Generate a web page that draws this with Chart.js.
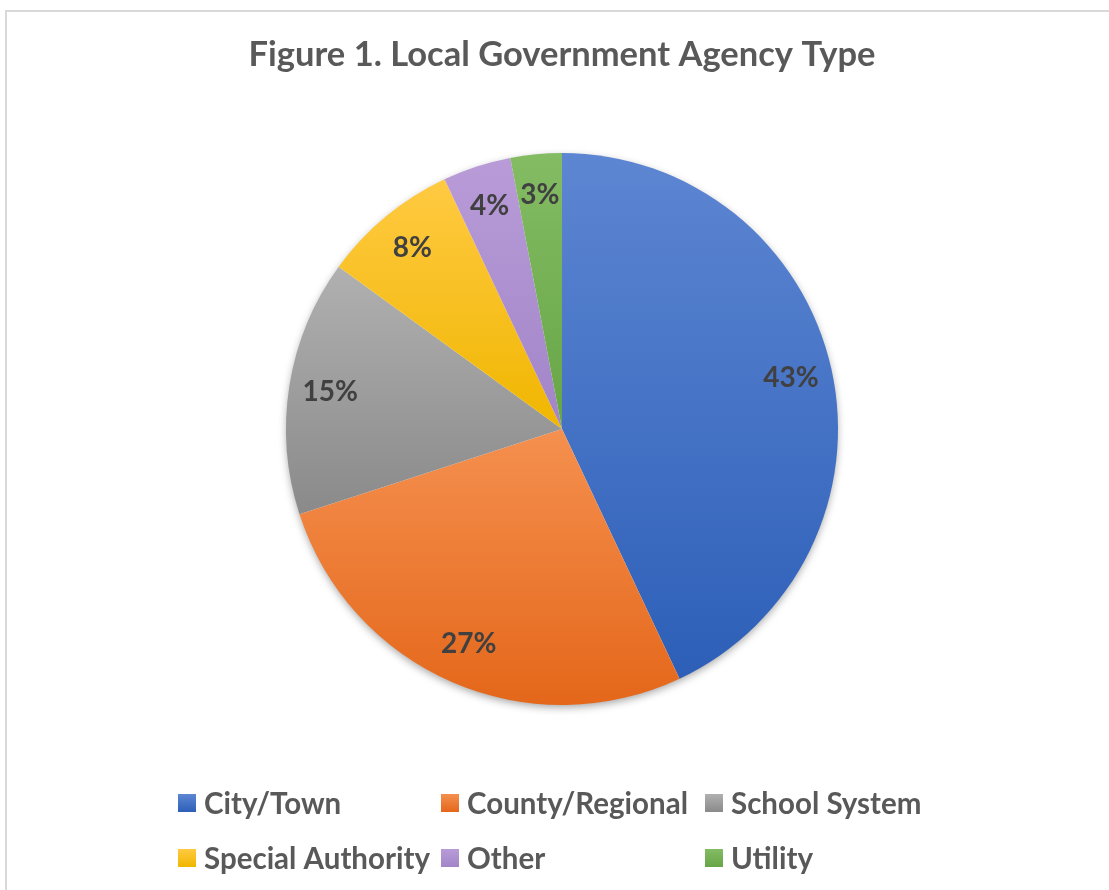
<!DOCTYPE html>
<html>
<head>
<meta charset="utf-8">
<title>Local Government Agency Type</title>
<script src="https://cdn.jsdelivr.net/npm/chart.js@4.4.1/dist/chart.umd.min.js"></script>
<style>
  html, body { margin: 0; padding: 0; background: #fff; }
  #wrap { width: 1109px; height: 890px; position: relative; }
</style>
</head>
<body>
<div id="wrap"><canvas id="agencyChart" width="1109" height="890"></canvas></div>
<script>
const categories = ['City/Town', 'County/Regional', 'School System', 'Special Authority', 'Other', 'Utility'];
const shares = [43, 27, 15, 8, 4, 3];

// top / bottom stops of each slice's vertical gradient
const topColors = ['#5d86d2', '#f5904f', '#b0b0b0', '#ffca42', '#b89bd7', '#84bc64'];
const bottomColors = ['#2d5fb8', '#e4671a', '#8a8a8a', '#f0b600', '#a285c8', '#66a546'];

const FONT = 'Lato, "Open Sans", sans-serif';

function vgrad(ctx, y0, y1, i) {
  const g = ctx.createLinearGradient(0, y0, 0, y1);
  g.addColorStop(0, topColors[i]);
  g.addColorStop(1, bottomColors[i]);
  return g;
}

// vertical extent of a pie slice
function sliceSpan(arc) {
  const {x, y, startAngle, endAngle, outerRadius} = arc.getProps(['x', 'y', 'startAngle', 'endAngle', 'outerRadius'], true);
  const ys = [y, y + Math.sin(startAngle) * outerRadius, y + Math.sin(endAngle) * outerRadius];
  const within = (a) => {
    for (let k = -2; k <= 2; k++) {
      const t = a + k * 2 * Math.PI;
      if (t >= startAngle && t <= endAngle) return true;
    }
    return false;
  };
  if (within(-Math.PI / 2)) ys.push(y - outerRadius);
  if (within(Math.PI / 2)) ys.push(y + outerRadius);
  return [Math.min(...ys), Math.max(...ys)];
}

const piePainter = {
  id: 'piePainter',
  beforeDraw(chart) {
    const ctx = chart.ctx;
    ctx.save();
    ctx.strokeStyle = '#d9d9d9';
    ctx.lineWidth = 2;
    ctx.strokeRect(6, 11, 1300, 1000);
    ctx.restore();
  },
  beforeDatasetsDraw(chart) {
    const ctx = chart.ctx;
    const arcs = chart.getDatasetMeta(0).data;
    if (!arcs.length) return;
    const a0 = arcs[0];
    // soft drop shadow under the whole pie
    ctx.save();
    ctx.shadowColor = 'rgba(0,0,0,0.38)';
    ctx.shadowBlur = 9;
    ctx.shadowOffsetY = 3;
    ctx.fillStyle = '#fff';
    ctx.beginPath();
    ctx.arc(a0.x, a0.y, a0.outerRadius - 1, 0, Math.PI * 2);
    ctx.fill();
    ctx.restore();
    arcs.forEach((arc, i) => {
      const [y0, y1] = sliceSpan(arc);
      arc.options.backgroundColor = vgrad(ctx, y0, y1, i);
      arc.options.borderColor = arc.options.backgroundColor;
    });
  },
  afterDatasetsDraw(chart) {
    const ctx = chart.ctx;
    const arcs = chart.getDatasetMeta(0).data;
    ctx.save();
    ctx.font = 'bold 28px ' + FONT;
    ctx.fillStyle = '#404040';
    ctx.textAlign = 'center';
    ctx.textBaseline = 'middle';
    arcs.forEach((arc, i) => {
      const mid = (arc.startAngle + arc.endAngle) / 2;
      const r = arc.outerRadius * 0.85;
      ctx.fillText(shares[i] + '%', arc.x + Math.cos(mid) * r, arc.y + Math.sin(mid) * r);
    });
    ctx.restore();
  },
  afterDraw(chart) {
    // three-column legend under the pie
    const ctx = chart.ctx;
    const cols = [178, 441, 705];
    const rows = [803, 858];
    ctx.save();
    ctx.font = 'bold 29.5px ' + FONT;
    ctx.textBaseline = 'middle';
    categories.forEach((name, i) => {
      const x = cols[i % 3];
      const y = rows[Math.floor(i / 3)];
      ctx.fillStyle = vgrad(ctx, y - 9, y + 9, i);
      ctx.fillRect(x, y - 9, 18, 18);
      ctx.fillStyle = '#595959';
      ctx.fillText(name, x + 26, y + 1);
    });
    ctx.restore();
  }
};

new Chart(document.getElementById('agencyChart'), {
  type: 'pie',
  data: {
    labels: categories,
    datasets: [{
      data: shares,
      backgroundColor: topColors,
      borderWidth: 0,
      hoverOffset: 0,
      offset: 0
    }]
  },
  options: {
    responsive: false,
    animation: false,
    events: [],
    layout: {
      padding: {left: 20, right: 5, top: 10, bottom: 185}
    },
    plugins: {
      legend: {display: false},
      tooltip: {enabled: false},
      title: {
        display: true,
        text: 'Figure 1. Local Government Agency Type',
        color: '#595959',
        font: {family: FONT, size: 34.5, weight: 'bold', lineHeight: 1.2},
        padding: {top: 24.3, bottom: 77.3}
      }
    }
  },
  plugins: [piePainter]
});
</script>
</body>
</html>
